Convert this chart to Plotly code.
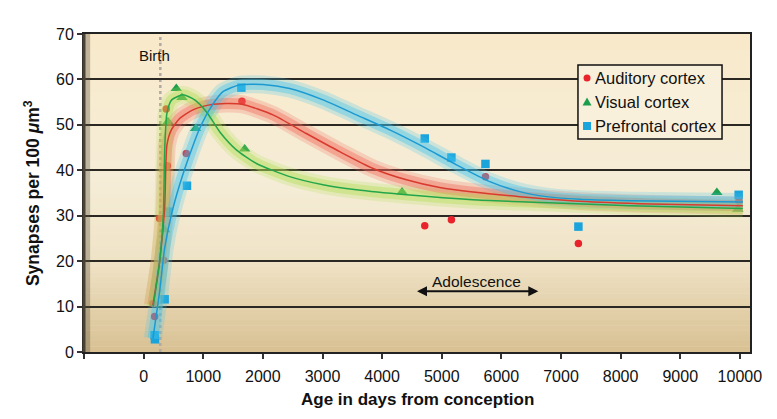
import plotly.graph_objects as go

# ---------------- data ----------------
aud_x = [156, 185, 268, 336, 380, 397, 716, 1649, 4715, 5162, 5733, 7292, 9983]
aud_y = [10.7, 7.8, 29.4, 20.2, 53.5, 41.0, 43.7, 55.2, 27.8, 29.1, 38.6, 23.9, 33.2]

vis_x = [352, 408, 548, 643, 872, 1695, 4334, 9614, 9966]
vis_y = [26.9, 50.7, 58.0, 56.0, 49.2, 44.7, 35.2, 35.1, 31.4]

pfc_x = [185, 190, 352, 408, 727, 1639, 4715, 5162, 5733, 7292, 9980]
pfc_y = [3.7, 2.8, 11.6, 30.9, 36.6, 58.2, 47.0, 42.8, 41.4, 27.6, 34.6]

aud_fit_x = [156, 268, 352, 391, 465, 604, 827, 1107, 1387, 1666, 2170, 2729,
             3289, 3848, 4408, 4966, 5525, 6309, 7315, 8500, 10050]
aud_fit_y = [10.3, 19.9, 31.6, 45.6, 48.9, 51.4, 53.3, 54.4, 54.7, 54.5, 52.2, 48.1,
             44.1, 40.4, 37.9, 36.2, 35.2, 34.2, 33.2, 32.6, 32.2]

vis_fit_x = [160, 270, 330, 355, 390, 470, 659, 856, 1052, 1275, 1555, 1891, 2450,
             3009, 3568, 4408, 5525, 6309, 8154, 10050]
vis_fit_y = [10.0, 20.0, 30.0, 45.0, 52.5, 55.5, 56.6, 55.5, 52.9, 48.5, 44.5, 41.5, 38.6,
             36.8, 35.7, 34.6, 33.5, 33.1, 32.2, 31.6]

pfc_fit_x = [156, 268, 352, 465, 604, 772, 940, 1135, 1331, 1611, 2002, 2450, 3009,
             3568, 4128, 4687, 5247, 5805, 6309, 6756, 7315, 8154, 10050]
pfc_fit_y = [3.0, 13.3, 22.8, 30.2, 36.8, 43.4, 49.2, 54.0, 57.3, 58.8, 58.9, 58.0, 55.5,
             52.2, 48.9, 45.2, 41.2, 37.5, 35.3, 34.2, 33.6, 33.3, 33.0]

x_ticks = [-1000, 0, 1000, 2000, 3000, 4000, 5000, 6000, 7000, 8000, 9000, 10000]
x_ticklabels = ["", "0", "1000", "2000", "3000", "4000", "5000", "6000", "7000",
                "8000", "9000", "10000"]
y_ticks = [0, 10, 20, 30, 40, 50, 60, 70]

series_names = ["Auditory cortex", "Visual cortex", "Prefrontal cortex"]
marker_colors = ["#e8232b", "#1d9e4c", "#1ba3dc"]
glow_rgb = ["240,100,85", "175,222,80", "60,195,238"]
line_colors = ["#d93a2e", "#23a64a", "#1b9ad2"]

birth_day = 280
adolescence = [4560, 6620]

FONT = "Liberation Sans, Arial, sans-serif"

fig = go.Figure()

# markers (drawn first, glows go over them)
fig.add_trace(go.Scatter(x=aud_x, y=aud_y, mode="markers", name=series_names[0],
                         marker=dict(symbol="circle", size=7.5, color=marker_colors[0])))
fig.add_trace(go.Scatter(x=vis_x, y=vis_y, mode="markers", name=series_names[1],
                         marker=dict(symbol="triangle-up", size=10, color=marker_colors[1])))
fig.add_trace(go.Scatter(x=pfc_x, y=pfc_y, mode="markers", name=series_names[2],
                         marker=dict(symbol="square", size=8.5, color=marker_colors[2])))

fits = [(aud_fit_x, aud_fit_y), (vis_fit_x, vis_fit_y), (pfc_fit_x, pfc_fit_y)]
# soft glow: a wide faint halo and a narrower, stronger core
for width, alpha in [(18, 0.22), (11, 0.38)]:
    for (fx, fy), rgb in zip(fits, glow_rgb):
        fig.add_trace(go.Scatter(x=fx, y=fy, mode="lines", showlegend=False, hoverinfo="skip",
                                 line=dict(color="rgba(%s,%s)" % (rgb, alpha), width=width,
                                           shape="spline", smoothing=0.6)))
for (fx, fy), lc in zip(fits, line_colors):
    fig.add_trace(go.Scatter(x=fx, y=fy, mode="lines", showlegend=False, hoverinfo="skip",
                             line=dict(color=lc, width=1.5, shape="spline", smoothing=0.6)))

# gradient background
def lerp(c1, c2, t):
    return tuple(round(a + (b - a) * t) for a, b in zip(c1, c2))

stops = [(0.0, (249, 233, 202)), (0.45, (245, 237, 215)), (0.7, (240, 228, 200)),
         (1.0, (216, 192, 146))]
n = 60
shapes = []
for i in range(n):
    t = (i + 0.5) / n
    for k in range(len(stops) - 1):
        if stops[k][0] <= t <= stops[k + 1][0]:
            tt = (t - stops[k][0]) / (stops[k + 1][0] - stops[k][0])
            c = lerp(stops[k][1], stops[k + 1][1], tt)
            break
    shapes.append(dict(type="rect", xref="paper", yref="paper", x0=0, x1=1,
                       y0=1 - (i + 1) / n, y1=1 - i / n + 0.001, layer="below",
                       line=dict(width=0), fillcolor="rgb(%d,%d,%d)" % c))
shapes.append(dict(type="line", xref="x", yref="paper", x0=birth_day, x1=birth_day, y0=0, y1=1,
                   layer="below", line=dict(color="#b0aaa2", width=2.5, dash="dot")))
shapes.append(dict(type="line", xref="paper", yref="paper", x0=0.004, x1=0.004, y0=0, y1=1,
                   line=dict(color="rgba(90,80,60,0.35)", width=7)))
shapes.append(dict(type="line", xref="paper", yref="paper", x0=0, x1=0, y0=0, y1=1,
                   line=dict(color="#4a4236", width=3)))

# custom legend box
leg_x0, leg_x1, leg_y0, leg_y1 = 0.7417, 0.958, 0.670, 0.9025
leg_rows = [0.8616, 0.7862, 0.7107]
leg_mx, leg_tx = 0.7553, 0.7643
shapes.append(dict(type="rect", xref="paper", yref="paper", x0=leg_x0, x1=leg_x1,
                   y0=leg_y0, y1=leg_y1, fillcolor="#f9f0dc",
                   line=dict(color="#111", width=1.5)))
shapes.append(dict(type="circle", xref="paper", yref="paper", xsizemode="pixel",
                   ysizemode="pixel", xanchor=leg_mx, yanchor=leg_rows[0],
                   x0=-3.5, x1=3.5, y0=-3.5, y1=3.5, fillcolor=marker_colors[0],
                   line=dict(width=0)))
shapes.append(dict(type="path", xref="paper", yref="paper", xsizemode="pixel",
                   ysizemode="pixel", xanchor=leg_mx, yanchor=leg_rows[1],
                   path="M-4.5,-3.5 L4.5,-3.5 L0,4.5 Z", fillcolor=marker_colors[1],
                   line=dict(width=0)))
shapes.append(dict(type="rect", xref="paper", yref="paper", xsizemode="pixel",
                   ysizemode="pixel", xanchor=leg_mx, yanchor=leg_rows[2],
                   x0=-4, x1=4, y0=-4, y1=4, fillcolor=marker_colors[2],
                   line=dict(width=0)))

annotations = [
    dict(x=185, y=65.2, xref="x", yref="y", text="Birth", showarrow=False,
         font=dict(size=15, color="#111", family=FONT)),
    dict(x=adolescence[1], y=13.4, ax=adolescence[0], ay=13.4, xref="x", yref="y",
         axref="x", ayref="y", text="", showarrow=True, arrowhead=2, arrowside="end+start",
         arrowwidth=2, arrowsize=1, arrowcolor="#111"),
    dict(x=sum(adolescence) / 2, y=15.6, xref="x", yref="y", text="Adolescence",
         showarrow=False, font=dict(size=15.5, color="#111", family=FONT)),
    dict(x=0.5, y=-0.148, xref="paper", yref="paper", xanchor="center", yanchor="middle",
         text="<b>Age in days from conception</b>", showarrow=False,
         font=dict(size=17, color="#111", family=FONT)),
    dict(x=-0.078, y=0.5, xref="paper", yref="paper", textangle=-90, xanchor="center",
         yanchor="middle",
         text="<b>Synapses per 100 <i>μ</i>m<sup>3</sup></b>", showarrow=False,
         font=dict(size=17.5, color="#111", family=FONT)),
]
for name, ry in zip(series_names, leg_rows):
    annotations.append(dict(x=leg_tx, y=ry, xref="paper", yref="paper", xanchor="left",
                            yanchor="middle", text=name, showarrow=False,
                            font=dict(size=16.5, color="#111", family=FONT)))

fig.update_layout(
    width=769, height=411,
    margin=dict(l=76, r=27, t=26, b=67),
    paper_bgcolor="white", plot_bgcolor="#f4ead2",
    font=dict(family=FONT, size=16, color="#111"),
    shapes=shapes, annotations=annotations,
    showlegend=False,
)
fig.update_xaxes(range=[-1000, 10170], tickvals=x_ticks, ticktext=x_ticklabels,
                 showgrid=False, zeroline=False, showline=True, linecolor="#222",
                 linewidth=2, mirror=True, ticks="outside", ticklen=5, tickwidth=1.5,
                 tickcolor="#333", ticklabelstandoff=4,
                 tickfont=dict(size=16, family=FONT, color="#111"))
fig.update_yaxes(range=[0, 70], tickvals=y_ticks, showgrid=True, gridcolor="#2b2823",
                 gridwidth=2, zeroline=False, showline=True, linecolor="#222",
                 linewidth=2, mirror=True, ticks="outside", ticklen=5, tickwidth=1.5,
                 tickcolor="#333", tickfont=dict(size=16, family=FONT, color="#111"))

fig.write_html("out.html")
